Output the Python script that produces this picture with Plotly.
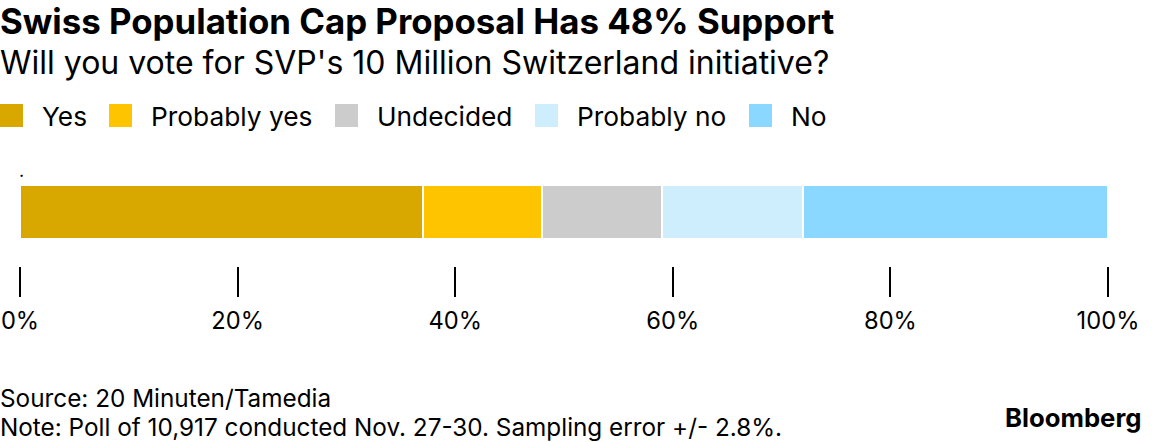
import plotly.graph_objects as go

categories = ["."]
series_names = ["Yes", "Probably yes", "Undecided", "Probably no", "No"]
series_values = [37, 11, 11, 13, 28]
colors = ["#d9a800", "#ffc400", "#cccccc", "#ceeefd", "#8ad8ff"]
tick_values = [0, 20, 40, 60, 80, 100]
tick_labels = ["0%", "20%", "40%", "60%", "80%", "100%"]

W, H = 1152, 442
FONT = "Inter"

L, R, T, B = 20, 44, 185, 176
PW, PH = W - L - R, H - T - B


def px(x):
    return (x - L) / PW


def py(y):
    return (H - B - y) / PH


fig = go.Figure()
for name, val, col in zip(series_names, series_values, colors):
    fig.add_trace(go.Bar(
        x=[val], y=[0], name=name, orientation="h",
        marker=dict(color=col, line=dict(color="white", width=2)),
        width=1, showlegend=False, hoverinfo="skip",
    ))

legend_x = [0, 109, 335, 535, 749]
shapes = []
annotations = []
for lx, name, col in zip(legend_x, series_names, colors):
    shapes.append(dict(type="rect", xref="paper", yref="paper",
                       x0=px(lx), x1=px(lx + 23), y0=py(127), y1=py(104),
                       line=dict(width=0), fillcolor=col, layer="above"))
    annotations.append(dict(xref="paper", yref="paper", x=px(lx + 40), y=py(116),
                            text=name, showarrow=False, xanchor="left", yanchor="middle",
                            font=dict(family=FONT, size=26.3, color="#000")))

annotations += [
    dict(xref="paper", yref="paper", x=px(-2), y=py(21), text="<b>Swiss Population Cap Proposal Has 48% Support</b>",
         showarrow=False, xanchor="left", yanchor="middle", font=dict(family=FONT, size=34.8, color="#000")),
    dict(xref="paper", yref="paper", x=px(-2), y=py(62), text="Will you vote for SVP's 10 Million Switzerland initiative?",
         showarrow=False, xanchor="left", yanchor="middle", font=dict(family=FONT, size=32, color="#000")),
    dict(xref="paper", yref="paper", x=px(17), y=py(170), text=categories[0],
         showarrow=False, xanchor="left", yanchor="middle", font=dict(family=FONT, size=18, color="#000")),
    dict(xref="paper", yref="paper", x=px(-2), y=py(398), text="Source: 20 Minuten/Tamedia",
         showarrow=False, xanchor="left", yanchor="middle", font=dict(family=FONT, size=24.3, color="#000")),
    dict(xref="paper", yref="paper", x=px(-2), y=py(427), text="Note: Poll of 10,917 conducted Nov. 27-30. Sampling error +/- 2.8%.",
         showarrow=False, xanchor="left", yanchor="middle", font=dict(family=FONT, size=24.3, color="#000")),
    dict(xref="paper", yref="paper", x=px(1143), y=py(417), text="<b>Bloomberg</b>",
         showarrow=False, xanchor="right", yanchor="middle", font=dict(family=FONT, size=25.7, color="#000")),
]

fig.update_layout(
    width=W, height=H,
    margin=dict(l=L, r=R, t=T, b=B),
    barmode="stack",
    plot_bgcolor="white", paper_bgcolor="white",
    xaxis=dict(range=[0, 100], tickvals=tick_values, ticktext=tick_labels,
               ticks="outside", ticklen=30, tickwidth=1.5, tickcolor="#000",
               showgrid=False, zeroline=False, showline=False, automargin=False,
               ticklabelstandoff=4,
               tickfont=dict(family=FONT, size=23.7, color="#000"),
               fixedrange=True),
    yaxis=dict(range=[-1.0, 0.5], showticklabels=False, showgrid=False, automargin=False,
               zeroline=False, showline=False, fixedrange=True),
    shapes=shapes,
    annotations=annotations,
    showlegend=False,
)

fig.write_html("out.html", config={"displayModeBar": False},
               post_script="document.body.style.margin='0';document.body.style.overflow='hidden';")
